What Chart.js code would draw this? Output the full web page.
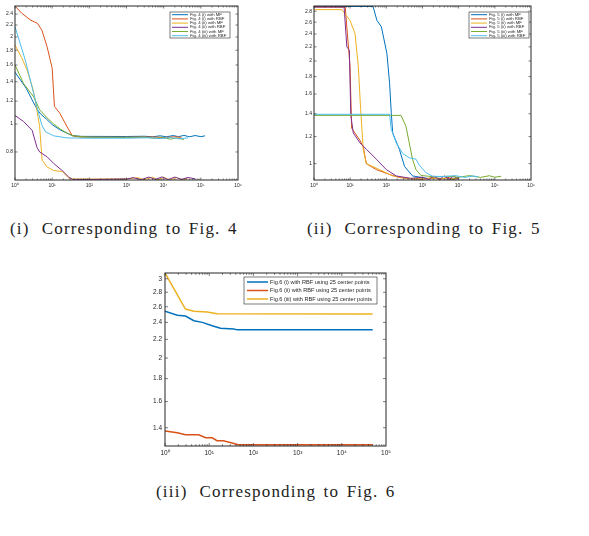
<!DOCTYPE html>
<html>
<head>
<meta charset="utf-8">
<script src="https://cdn.jsdelivr.net/npm/chart.js@4.4.1/dist/chart.umd.min.js"></script>
<style>
body { margin: 0; background: #fff; width: 589px; height: 536px; position: relative; overflow: hidden; }
.plot { position: absolute; }
.cap { position: absolute; font-family: "Liberation Serif", "DejaVu Serif", serif; font-size: 17px; line-height: 17px; letter-spacing: 1.2px; word-spacing: 2px; color: #222; white-space: nowrap; }
.cap span { margin-right: 12px; }
</style>
</head>
<body>
<div class="plot" style="left:0;top:0"><canvas id="c1" width="250" height="200"></canvas></div>
<div class="plot" style="left:290px;top:0"><canvas id="c2" width="260" height="200"></canvas></div>
<div class="plot" style="left:140px;top:260px"><canvas id="c3" width="260" height="205"></canvas></div>

<div class="cap" style="left:10px;top:220px"><span>(i)</span>Corresponding to Fig. 4</div>
<div class="cap" style="left:307px;top:220px"><span>(ii)</span>Corresponding to Fig. 5</div>
<div class="cap" style="left:156px;top:483px"><span>(iii)</span>Corresponding to Fig. 6</div>

<script>
// MATLAB default line colours
const colors = ['#0072BD', '#D95319', '#EDB120', '#7E2F8E', '#77AC30', '#4DBEEE'];

// ---- (i) Fig. 4 ----
const labels4 = ['Fig. 4 (i) with MF', 'Fig. 4 (i) with RBF', 'Fig. 4 (ii) with MF',
                 'Fig. 4 (ii) with RBF', 'Fig. 4 (iii) with MF', 'Fig. 4 (iii) with RBF'];
const f4_i_mf = [[1,1.51],[2,1.33],[3,1.2],[4,1.12],[5,1.08],[7,1.04],[10,0.995],[16,0.955],[25,0.93],[35,0.912],[60,0.906],
  [1000,0.905],[3000,0.907],[5000,0.903],[8000,0.91],[12000,0.903],[18000,0.912],[25000,0.904],[35000,0.913],[50000,0.903],[70000,0.912],[100000,0.904],[130000,0.91]];
const f4_i_rbf = [[1,2.56],[1.5,2.42],[2.6,2.29],[4,2.23],[5.3,2.11],[7.3,1.85],[10,1.56],[11.5,1.15],[16,1.09],[25,0.98],[35,0.91],[60,0.9],
  [1000,0.9],[5000,0.902],[10000,0.898],[20000,0.903],[30000,0.899]];
const f4_ii_mf = [[1,1.875],[1.5,1.7],[2.1,1.54],[3,1.33],[3.5,1.21],[4.6,0.98],[5.35,0.75],[7.3,0.71],[11,0.69],[18.6,0.685],[28,0.65],[40,0.645],
  [1000,0.645],[2000,0.652],[3000,0.641],[5000,0.655],[7000,0.64],[10000,0.654],[15000,0.639],[22000,0.653],[32000,0.64],[45000,0.65]];
const f4_ii_rbf = [[1,1.07],[1.7,1.02],[2.9,0.95],[3.9,0.83],[4.6,0.8],[7.3,0.77],[11,0.73],[18.6,0.69],[28,0.655],[35,0.643],[100,0.643],
  [1000,0.645],[1500,0.652],[2500,0.642],[4000,0.655],[6000,0.643],[9000,0.656],[13000,0.642],[20000,0.655],[30000,0.643],[45000,0.653],[70000,0.646]];
const f4_iii_mf = [[1,1.6],[1.7,1.38],[3.2,1.24],[4.6,1.12],[7.3,1.05],[11,1.0],[16.7,0.96],[25,0.93],[36,0.91],[100,0.9],
  [1000,0.898],[3000,0.9],[6000,0.892],[10000,0.897],[15000,0.886],[22000,0.894],[35000,0.884]];
const f4_iii_rbf = [[1,2.17],[1.9,1.66],[3.2,1.27],[4.3,1.09],[5.3,0.99],[6.6,0.94],[11,0.91],[25,0.895],[100,0.893],
  [1000,0.893],[4000,0.896],[8000,0.89],[15000,0.897],[25000,0.889],[45000,0.895]];
const xTicks4 = [1, 10, 100, 1e3, 1e4, 1e5, 1e6];
const yTicks4 = [0.8, 1, 1.2, 1.4, 1.6, 1.8, 2, 2.2, 2.4];

// ---- (ii) Fig. 5 ----
const labels5 = ['Fig. 5 (i) with MF', 'Fig. 5 (i) with RBF', 'Fig. 5 (ii) with MF',
                 'Fig. 5 (ii) with RBF', 'Fig. 5 (iii) with MF', 'Fig. 5 (iii) with RBF'];
const f5_i_mf = [[1,2.89],[43,2.89],[55,2.63],[73,2.52],[104,2.1],[123,1.72],[137,1.41],[150,1.23],[230,1.1],[320,0.98],[530,0.92],[1500,0.903],
  [3000,0.905],[6000,0.9],[10000,0.906]];
const f5_i_rbf = [[1,2.88],[7.3,2.88],[9.9,1.93],[11,1.27],[18.6,1.17],[23,1.12],[28,1.0],[53,0.96],[120,0.93],[230,0.91],[500,0.902],
  [1000,0.9],[2000,0.91],[3000,0.898],[5000,0.912],[7000,0.899],[10000,0.91]];
const f5_ii_mf = [[1,2.83],[5.9,2.83],[9.9,2.63],[13.6,2.41],[16.8,1.93],[19.5,1.44],[23,1.1],[28,1.0],[65,0.96],[150,0.92],[400,0.905],
  [1000,0.902],[3000,0.906],[6000,0.9],[10000,0.905]];
const f5_ii_rbf = [[1,2.88],[6.8,2.88],[8.1,2.2],[9.5,2.15],[10.4,1.39],[12.2,1.23],[18.7,1.15],[28.4,1.1],[53,1.03],[100,0.96],[188,0.92],[470,0.905],
  [1000,0.912],[1500,0.898],[2000,0.918],[3000,0.899],[4000,0.92],[5500,0.9],[7000,0.918],[10000,0.902]];
const f5_iii_mf = [[1,1.385],[255,1.385],[350,1.285],[430,1.15],[530,1.03],[660,0.96],[900,0.923],[2000,0.915],
  [5000,0.918],[10000,0.912],[20000,0.922],[40000,0.911],[70000,0.921],[100000,0.912],[150000,0.918]];
const f5_iii_rbf = [[1,1.395],[123,1.395],[137,1.26],[188,1.15],[285,1.07],[430,1.04],[660,1.03],[810,0.99],[1250,0.94],[1900,0.918],
  [4000,0.916],[8000,0.922],[15000,0.911],[25000,0.92],[35000,0.914]];
const xTicks5 = [1, 10, 100, 1e3, 1e4, 1e5, 1e6];
const yTicks5 = [1, 1.2, 1.4, 1.6, 1.8, 2, 2.2, 2.4, 2.6, 2.8];

// ---- (iii) Fig. 6 ----
const labels6 = ['Fig.6 (i) with RBF using 25 center points', 'Fig.6 (ii) with RBF using 25 center points',
                 'Fig.6 (iii) with RBF using 25 center points'];
const f6_i = [[1,2.54],[1.9,2.49],[2.9,2.48],[4.5,2.42],[7,2.4],[11.7,2.36],[18,2.33],[36,2.32],[43,2.31],[50000,2.31]];
const f6_ii = [[1,1.376],[1.9,1.365],[2.9,1.35],[5.8,1.35],[8.3,1.33],[11.7,1.33],[15,1.31],[21,1.31],[33,1.295],[45,1.283],[50000,1.283]];
const f6_iii = [[1,3.09],[2.9,2.57],[4.5,2.54],[9,2.53],[15,2.51],[50000,2.505]];
const xTicks6 = [1, 10, 100, 1e3, 1e4, 1e5];
const yTicks6 = [1.4, 1.6, 1.8, 2, 2.2, 2.4, 2.6, 2.8, 3];

const sup = ['⁰', '¹', '²', '³', '⁴', '⁵', '⁶'];
const axisColor = '#262626';

// box + inward ticks on all four sides, like MATLAB
const framePlugin = {
    id: 'frame',
    afterDraw(chart, args, opts) {
        const { ctx, chartArea: a, scales: { x, y } } = chart;
        const line = (x1, y1, x2, y2) => { ctx.beginPath(); ctx.moveTo(x1, y1); ctx.lineTo(x2, y2); ctx.stroke(); };
        ctx.save();
        ctx.strokeStyle = axisColor;
        ctx.lineWidth = 0.6;
        for (let e = 0; e < Math.log10(x.max); e++) {
            for (let m = 1; m < 10; m++) {
                const v = m * Math.pow(10, e);
                if (v > x.max) continue;
                const px = x.getPixelForValue(v);
                const len = m === 1 ? opts.major : opts.minor;
                line(px, a.bottom, px, a.bottom - len);
                line(px, a.top, px, a.top + len);
            }
        }
        y.ticks.forEach(t => {
            const py = y.getPixelForValue(t.value);
            line(a.left, py, a.left + opts.major, py);
            line(a.right, py, a.right - opts.major, py);
        });
        ctx.lineWidth = opts.box;
        ctx.strokeRect(a.left, a.top, a.right - a.left, a.bottom - a.top);
        ctx.restore();
    }
};

// legend box inside the axes
const boxLegend = {
    id: 'boxLegend',
    afterDraw(chart, args, o) {
        const ctx = chart.ctx;
        ctx.save();
        ctx.fillStyle = '#fff';
        ctx.fillRect(o.x, o.y, o.w, o.h);
        ctx.strokeStyle = axisColor;
        ctx.lineWidth = 0.6;
        ctx.strokeRect(o.x, o.y, o.w, o.h);
        ctx.font = o.font + 'px "Liberation Sans", Arial, sans-serif';
        ctx.textBaseline = 'middle';
        chart.data.datasets.forEach((ds, i) => {
            const yy = o.y + o.first + i * o.step;
            ctx.strokeStyle = ds.borderColor;
            ctx.lineWidth = o.lw;
            ctx.beginPath();
            ctx.moveTo(o.x + o.l0, yy);
            ctx.lineTo(o.x + o.l1, yy);
            ctx.stroke();
            ctx.fillStyle = axisColor;
            ctx.fillText(ds.label, o.x + o.tx, yy);
        });
        ctx.restore();
    }
};

function makeChart(id, series, labels, xTicks, yTicks, lim, lay) {
    const datasets = series.map((s, i) => ({
        label: labels[i],
        data: s.map(p => ({ x: p[0], y: p[1] })),
        borderColor: colors[i],
        borderWidth: lay.lw,
        pointRadius: 0,
        tension: 0,
        fill: false,
        order: series.length - i
    }));
    return new Chart(document.getElementById(id), {
        type: 'line',
        data: { datasets },
        plugins: [framePlugin, boxLegend],
        options: {
            responsive: false,
            animation: false,
            devicePixelRatio: 1,
            layout: { padding: lay.padding },
            plugins: {
                legend: { display: false },
                tooltip: { enabled: false },
                frame: { major: lay.major, minor: lay.minor, box: lay.box },
                boxLegend: lay.legend
            },
            scales: {
                x: {
                    type: 'logarithmic',
                    min: lim.xmin, max: lim.xmax,
                    bounds: 'data',
                    grid: { display: false, drawTicks: false },
                    border: { display: false },
                    afterBuildTicks: s => { s.ticks = xTicks.map(v => ({ value: v })); s.min = lim.xmin; s.max = lim.xmax; },
                    afterFit: s => { s.height = lay.xh; },
                    ticks: {
                        autoSkip: false, maxRotation: 0, padding: lay.xpad, color: axisColor,
                        font: { size: lay.font, family: '"Liberation Sans", Arial, sans-serif' },
                        callback: v => '10' + sup[Math.round(Math.log10(v))]
                    }
                },
                y: {
                    type: 'logarithmic',
                    min: lim.ymin, max: lim.ymax,
                    bounds: 'data',
                    grid: { display: false, drawTicks: false },
                    border: { display: false },
                    afterBuildTicks: s => { s.ticks = yTicks.map(v => ({ value: v })); s.min = lim.ymin; s.max = lim.ymax; },
                    afterFit: s => { s.width = lay.yw; },
                    ticks: {
                        autoSkip: false, padding: lay.ypad, color: axisColor,
                        font: { size: lay.font, family: '"Liberation Sans", Arial, sans-serif' },
                        callback: v => String(v)
                    }
                }
            }
        }
    });
}

makeChart('c1', [f4_i_mf, f4_i_rbf, f4_ii_mf, f4_ii_rbf, f4_iii_mf, f4_iii_rbf], labels4, xTicks4, yTicks4,
    { xmin: 1, xmax: 1e6, ymin: 0.64, ymax: 2.56 },
    { lw: 1, font: 5, xh: 20, yw: 15, xpad: 3, ypad: 2, major: 2.5, minor: 1.5, box: 1,
      padding: { left: 0, right: 12, top: 6, bottom: 0 },
      legend: { x: 170, y: 12, w: 60, h: 26, first: 2.7, step: 4.2, font: 4.3, lw: 1, l0: 2, l1: 18, tx: 20 } });

makeChart('c2', [f5_i_mf, f5_i_rbf, f5_ii_mf, f5_ii_rbf, f5_iii_mf, f5_iii_rbf], labels5, xTicks5, yTicks5,
    { xmin: 1, xmax: 1e6, ymin: 0.895, ymax: 2.9 },
    { lw: 1, font: 5, xh: 20, yw: 24, xpad: 3, ypad: 2, major: 2.5, minor: 1.5, box: 1,
      padding: { left: 0, right: 19, top: 6, bottom: 0 },
      legend: { x: 179, y: 12, w: 60, h: 26, first: 2.7, step: 4.2, font: 4.3, lw: 1, l0: 2, l1: 18, tx: 20 } });

makeChart('c3', [f6_i, f6_ii, f6_iii], labels6, xTicks6, yTicks6,
    { xmin: 1, xmax: 1e5, ymin: 1.275, ymax: 3.09 },
    { lw: 1.5, font: 6.5, xh: 19, yw: 25, xpad: 3, ypad: 3, major: 3, minor: 1.8, box: 1,
      padding: { left: 0, right: 14, top: 13, bottom: 0 },
      legend: { x: 104, y: 17, w: 133, h: 27, first: 5, step: 8.5, font: 5.6, lw: 1.5, l0: 3, l1: 24, tx: 26 } });
</script>
</body>
</html>
